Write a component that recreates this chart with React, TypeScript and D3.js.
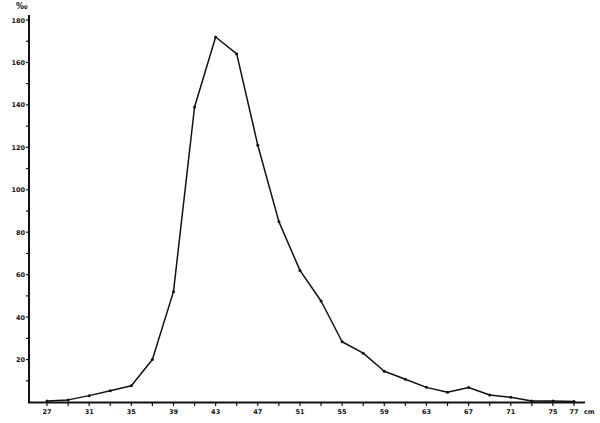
import React, { useEffect, useRef } from "react"
import * as d3 from "d3"

// length classes (cm) and frequency per mille
const lengths = [27, 29, 31, 33, 35, 37, 39, 41, 43, 45, 47, 49, 51, 53, 55, 57, 59, 61, 63, 65, 67, 69, 71, 73, 75, 77]
const permille = [0.5, 1, 3, 5.3, 7.7, 20, 52, 139, 172, 164, 121, 85, 62, 47.6, 28.4, 23, 14.5, 10.7, 6.9, 4.6, 6.8, 3.3, 2.2, 0.5, 0.5, 0.2]
const xLabels = [27, 31, 35, 39, 43, 47, 51, 55, 59, 63, 67, 71, 75, 77]
const yLabels = [20, 40, 60, 80, 100, 120, 140, 160, 180]

const App = () => {
  const ref = useRef<SVGSVGElement>(null)

  useEffect(() => {
    const svg = d3.select(ref.current)
    svg.selectAll("*").remove()

    const x = d3.scaleLinear().domain([27, 77]).range([47, 574])
    const y = d3.scaleLinear().domain([0, 180]).range([402, 20])

    const font = "'DejaVu Sans', sans-serif"

    // y axis
    svg.append("line")
      .attr("x1", 29).attr("x2", 29)
      .attr("y1", 15).attr("y2", 403)
      .attr("stroke", "#111").attr("stroke-width", 2)

    const yTicks = d3.range(10, 190, 10)
    svg.selectAll(".ytick")
      .data(yTicks)
      .enter()
      .append("line")
      .attr("x1", 26).attr("x2", 29)
      .attr("y1", (d) => y(d)).attr("y2", (d) => y(d))
      .attr("stroke", "#111").attr("stroke-width", 1.2)

    svg.selectAll(".ylab")
      .data(yLabels)
      .enter()
      .append("text")
      .attr("x", 25)
      .attr("y", (d) => y(d) + 2.5)
      .attr("text-anchor", "end")
      .attr("font-family", font)
      .attr("font-size", 6.5)
      .attr("font-weight", "bold")
      .attr("fill", "#111")
      .text((d) => d)

    svg.append("text")
      .attr("x", 16).attr("y", 9)
      .attr("font-family", font)
      .attr("font-size", 8)
      .attr("font-weight", "bold")
      .attr("fill", "#111")
      .text("‰")

    // x axis
    svg.append("line")
      .attr("x1", 28).attr("x2", 585)
      .attr("y1", 402.5).attr("y2", 402.5)
      .attr("stroke", "#111").attr("stroke-width", 2)

    svg.selectAll(".xtick")
      .data(lengths)
      .enter()
      .append("line")
      .attr("x1", (d) => x(d)).attr("x2", (d) => x(d))
      .attr("y1", 402).attr("y2", 406)
      .attr("stroke", "#111").attr("stroke-width", 1.2)

    svg.selectAll(".xlab")
      .data(xLabels)
      .enter()
      .append("text")
      .attr("x", (d) => x(d))
      .attr("y", 414)
      .attr("text-anchor", "middle")
      .attr("font-family", font)
      .attr("font-size", 6.5)
      .attr("font-weight", "bold")
      .attr("fill", "#111")
      .text((d) => d)

    svg.append("text")
      .attr("x", 584).attr("y", 414)
      .attr("font-family", font)
      .attr("font-size", 6.5)
      .attr("font-weight", "bold")
      .attr("fill", "#111")
      .text("cm")

    // curve
    const pts = lengths.map((l, i) => [l, permille[i]] as [number, number])
    const line = d3.line<[number, number]>()
      .x((d) => x(d[0]))
      .y((d) => y(d[1]))

    svg.append("path")
      .datum(pts)
      .attr("d", line)
      .attr("fill", "none")
      .attr("stroke", "#111")
      .attr("stroke-width", 1.5)
      .attr("stroke-linejoin", "round")

    svg.selectAll(".pt")
      .data(pts)
      .enter()
      .append("circle")
      .attr("cx", (d) => x(d[0]))
      .attr("cy", (d) => y(d[1]))
      .attr("r", 1.5)
      .attr("fill", "#111")
  }, [])

  return (
    <svg
      ref={ref}
      width={600}
      height={423}
      style={{ position: "absolute", left: 0, top: 0, background: "#fff", display: "block" }}
    />
  )
}

export default App
